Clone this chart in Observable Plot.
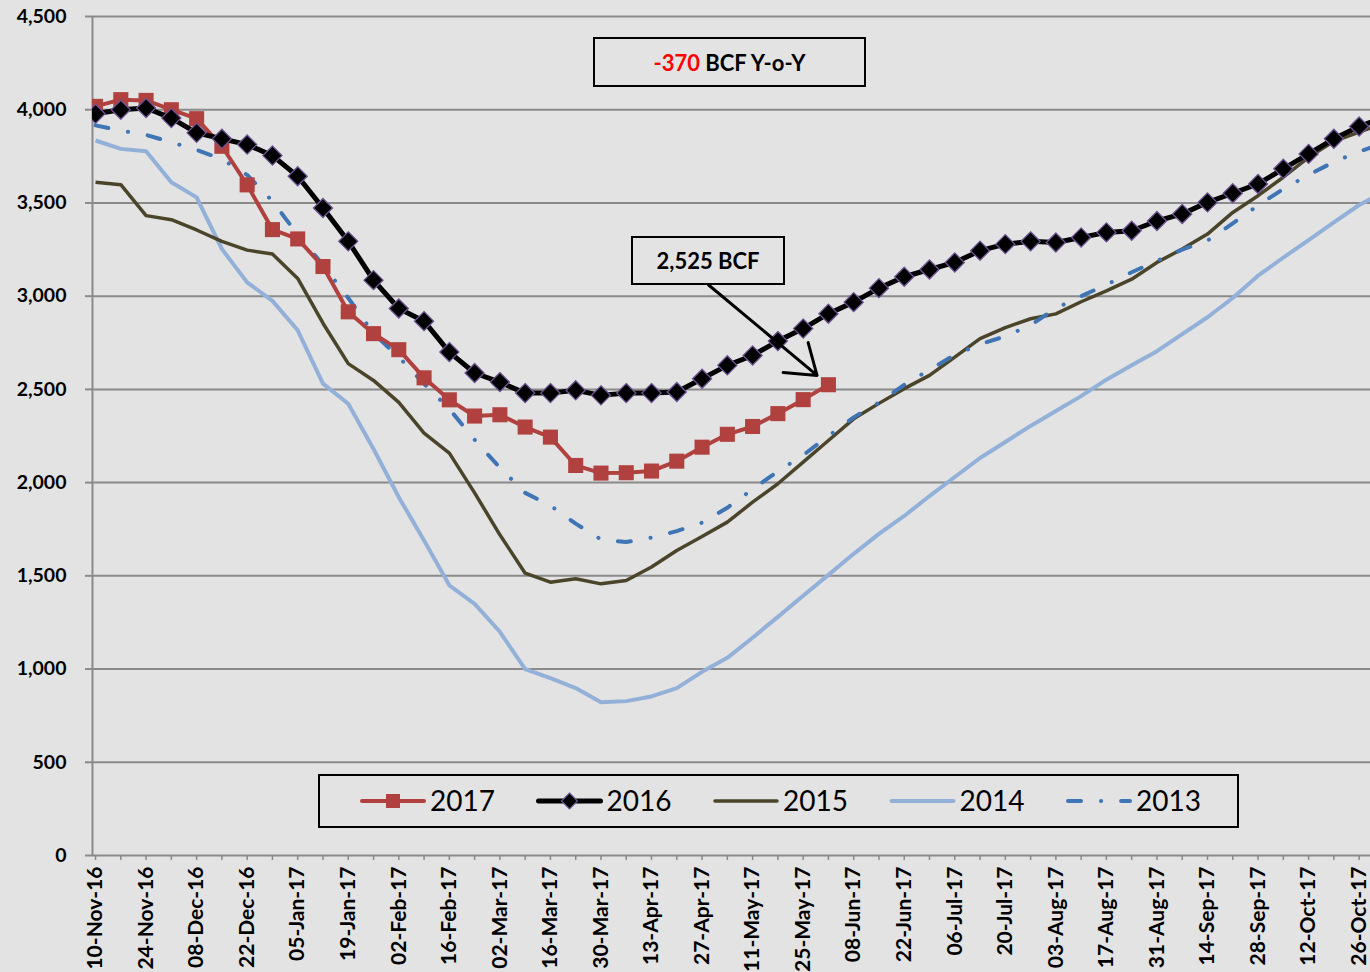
<!DOCTYPE html>
<html><head><meta charset="utf-8">
<script src="https://cdn.jsdelivr.net/npm/d3@7"></script>
<script src="https://cdn.jsdelivr.net/npm/@observablehq/plot@0.6"></script>
<style>
html,body{margin:0;padding:0;background:#e3e3e3;}
#wrap{position:relative;width:1370px;height:972px;overflow:hidden;font-family:Lato,"Open Sans",sans-serif;background:#e3e3e3;}
#wrap svg{display:block;}
.box{position:absolute;border:2px solid #000;box-sizing:border-box;display:flex;align-items:center;justify-content:center;font-weight:bold;font-size:22px;color:#000;background:#e3e3e3;font-family:Lato,"Open Sans",sans-serif;}
</style></head><body><div id="wrap"></div>
<script>
// Weekly report dates (index 0..51); labels shown every two weeks
const weeks = ["10-Nov-16","17-Nov-16","24-Nov-16","01-Dec-16","08-Dec-16","15-Dec-16","22-Dec-16","29-Dec-16",
"05-Jan-17","12-Jan-17","19-Jan-17","26-Jan-17","02-Feb-17","09-Feb-17","16-Feb-17","23-Feb-17",
"02-Mar-17","09-Mar-17","16-Mar-17","23-Mar-17","30-Mar-17","06-Apr-17","13-Apr-17","20-Apr-17",
"27-Apr-17","04-May-17","11-May-17","18-May-17","25-May-17","01-Jun-17","08-Jun-17","15-Jun-17",
"22-Jun-17","29-Jun-17","06-Jul-17","13-Jul-17","20-Jul-17","27-Jul-17","03-Aug-17","10-Aug-17",
"17-Aug-17","24-Aug-17","31-Aug-17","07-Sep-17","14-Sep-17","21-Sep-17","28-Sep-17","05-Oct-17",
"12-Oct-17","19-Oct-17","26-Oct-17","02-Nov-17"];

const s2017 = [4018,4054,4050,4000,3952,3804,3597,3357,3307,3159,2916,2799,2713,2562,2444,2357,2364,2298,2244,2092,2051,2053,2062,2115,2190,2259,2301,2370,2445,2525];
const s2016 = [3978,4000,4009,3955,3876,3844,3813,3754,3643,3473,3294,3086,2934,2866,2700,2588,2539,2480,2480,2495,2468,2480,2480,2486,2557,2629,2682,2759,2826,2906,2968,3043,3104,3143,3181,3244,3279,3294,3288,3315,3342,3351,3403,3441,3503,3552,3602,3683,3763,3844,3910,3960];
const s2015 = [3611,3598,3432,3410,3355,3294,3247,3226,3095,2855,2638,2548,2430,2265,2158,1945,1720,1514,1466,1484,1457,1475,1547,1636,1711,1788,1895,1994,2110,2226,2342,2425,2504,2575,2673,2772,2831,2879,2905,2970,3028,3091,3181,3253,3333,3449,3539,3638,3745,3831,3880,3930];
const s2014 = [3835,3790,3777,3611,3530,3253,3074,2975,2817,2531,2423,2180,1922,1690,1449,1350,1200,1000,951,898,822,828,853,898,985,1060,1168,1280,1393,1505,1618,1725,1821,1928,2030,2132,2218,2304,2384,2464,2552,2630,2705,2796,2887,2990,3110,3207,3301,3396,3489,3560];
const s2013 = [3916,3888,3865,3825,3785,3735,3650,3510,3330,3168,2990,2800,2673,2530,2395,2230,2080,1945,1877,1780,1695,1681,1705,1740,1785,1865,1965,2060,2147,2250,2350,2430,2525,2605,2685,2742,2785,2845,2935,3000,3062,3128,3190,3250,3298,3390,3487,3575,3650,3720,3776,3820];

const seriesNames = ["2017","2016","2015","2014","2013"];
const yTicks = [0,500,1000,1500,2000,2500,3000,3500,4000,4500];
const yoyValue = "-370";
const lastLabel = "2,525 BCF";
// annotation arrow: [weekIndex, BCF] from label box to the latest 2017 value
const arrowFrom = [24.26, 3060];
const arrowTo = [28.55, 2575];

const styles = {
  "2017": {stroke:"#b0413e", width:4},
  "2016": {stroke:"#000000", width:5},
  "2015": {stroke:"#4a452a", width:3.5},
  "2014": {stroke:"#93b0d8", width:4},
  "2013": {stroke:"#3f74b5", width:4, dash:"13,20,0.1,20"}
};

const table = [];
[s2017,s2016,s2015,s2014,s2013].forEach((arr,k)=>arr.forEach((v,i)=>table.push({series:seriesNames[k], i, week:weeks[i], value:v})));
const ser = name => table.filter(d=>d.series===name);

const xDomain = [-0.12, 50.45];
const tickIdx = d3.range(0, 51);
const fmt = d3.format(",");

function lineMark(name){
  const st = styles[name];
  return Plot.line(ser(name), {x:"i", y:"value", stroke:st.stroke, strokeWidth:st.width,
    strokeDasharray: st.dash, strokeLinecap: st.dash ? "round" : "butt", strokeLinejoin:"round", clip:true});
}

const chart = Plot.plot({
  width:1370, height:972,
  marginLeft:92, marginRight:0, marginTop:16, marginBottom:117,
  style:{background:"transparent", fontFamily:"Lato, 'Open Sans', sans-serif", fontWeight:"bold", color:"#000"},
  x:{domain:xDomain, label:null},
  y:{domain:[0,4500], label:null},
  marks:[
    Plot.gridY(yTicks, {stroke:"#8a8a8a", strokeOpacity:1, strokeWidth:2}),
    Plot.ruleX([xDomain[0]], {stroke:"#8a8a8a", strokeWidth:2}),
    Plot.axisY({ticks:yTicks, tickFormat:d => fmt(d), tickSize:7, tickPadding:19, fontSize:19.5, stroke:"#8a8a8a", strokeWidth:2, fill:"#000"}),
    Plot.axisX({ticks:tickIdx, tickFormat:i => (i % 2 === 0 ? weeks[i] : ""), tickSize:5, tickPadding:6, tickRotate:-90, fontSize:21, stroke:"#8a8a8a", strokeWidth:1.5, fill:"#000"}),
    lineMark("2014"),
    lineMark("2015"),
    lineMark("2013"),
    lineMark("2017"),
    Plot.dot(ser("2017"), {x:"i", y:"value", symbol:"square", r:8.5, fill:styles["2017"].stroke, clip:true}),
    lineMark("2016"),
    Plot.dot(ser("2016"), {x:"i", y:"value", symbol:"diamond2", r:8.6, fill:"#000", stroke:"#6e5494", strokeWidth:1.3, clip:true}),
    Plot.arrow([{x1:arrowFrom[0], y1:arrowFrom[1], x2:arrowTo[0], y2:arrowTo[1]}], {x1:"x1", y1:"y1", x2:"x2", y2:"y2", stroke:"#000", strokeWidth:3, headLength:17, headAngle:70})
  ]
});
const wrap = document.getElementById("wrap");
wrap.appendChild(chart);

// annotation boxes
const b1 = document.createElement("div");
b1.className = "box";
Object.assign(b1.style, {left:"593px", top:"37px", width:"273px", height:"50px"});
b1.innerHTML = `<span style="color:#ff0000">${yoyValue}</span>&nbsp;BCF Y-o-Y`;
wrap.appendChild(b1);
const b2 = document.createElement("div");
b2.className = "box";
Object.assign(b2.style, {left:"631px", top:"236px", width:"154px", height:"49px"});
b2.textContent = lastLabel;
wrap.appendChild(b2);

// legend
const lg = document.createElement("div");
Object.assign(lg.style, {position:"absolute", left:"318px", top:"774px", width:"921px", height:"54px", border:"2px solid #000", boxSizing:"border-box", background:"#e3e3e3"});
wrap.appendChild(lg);
const lsvg = d3.select(lg).append("svg").attr("width",917).attr("height",50);
seriesNames.forEach((name,k)=>{
  const st = styles[name];
  const x0 = 42 + k*176.5, yc = 25;
  const g = lsvg.append("g");
  g.append("line").attr("x1",x0).attr("x2",x0+62).attr("y1",yc).attr("y2",yc)
    .attr("stroke",st.stroke).attr("stroke-width",st.width)
    .attr("stroke-dasharray",st.dash || null).attr("stroke-linecap","round");
  if (name==="2017") g.append("rect").attr("x",x0+31-7).attr("y",yc-7).attr("width",14).attr("height",14).attr("fill",st.stroke);
  if (name==="2016") g.append("path").attr("d",`M${x0+31},${yc-8}L${x0+39},${yc}L${x0+31},${yc+8}L${x0+23},${yc}Z`).attr("fill","#000").attr("stroke","#6e5494").attr("stroke-width",1.2);
  g.append("text").attr("x",x0+68).attr("y",yc).attr("dy","0.36em").attr("font-size",28)
    .attr("font-family","Lato, 'Open Sans', sans-serif").attr("fill","#000").text(name);
});
</script></body></html>
